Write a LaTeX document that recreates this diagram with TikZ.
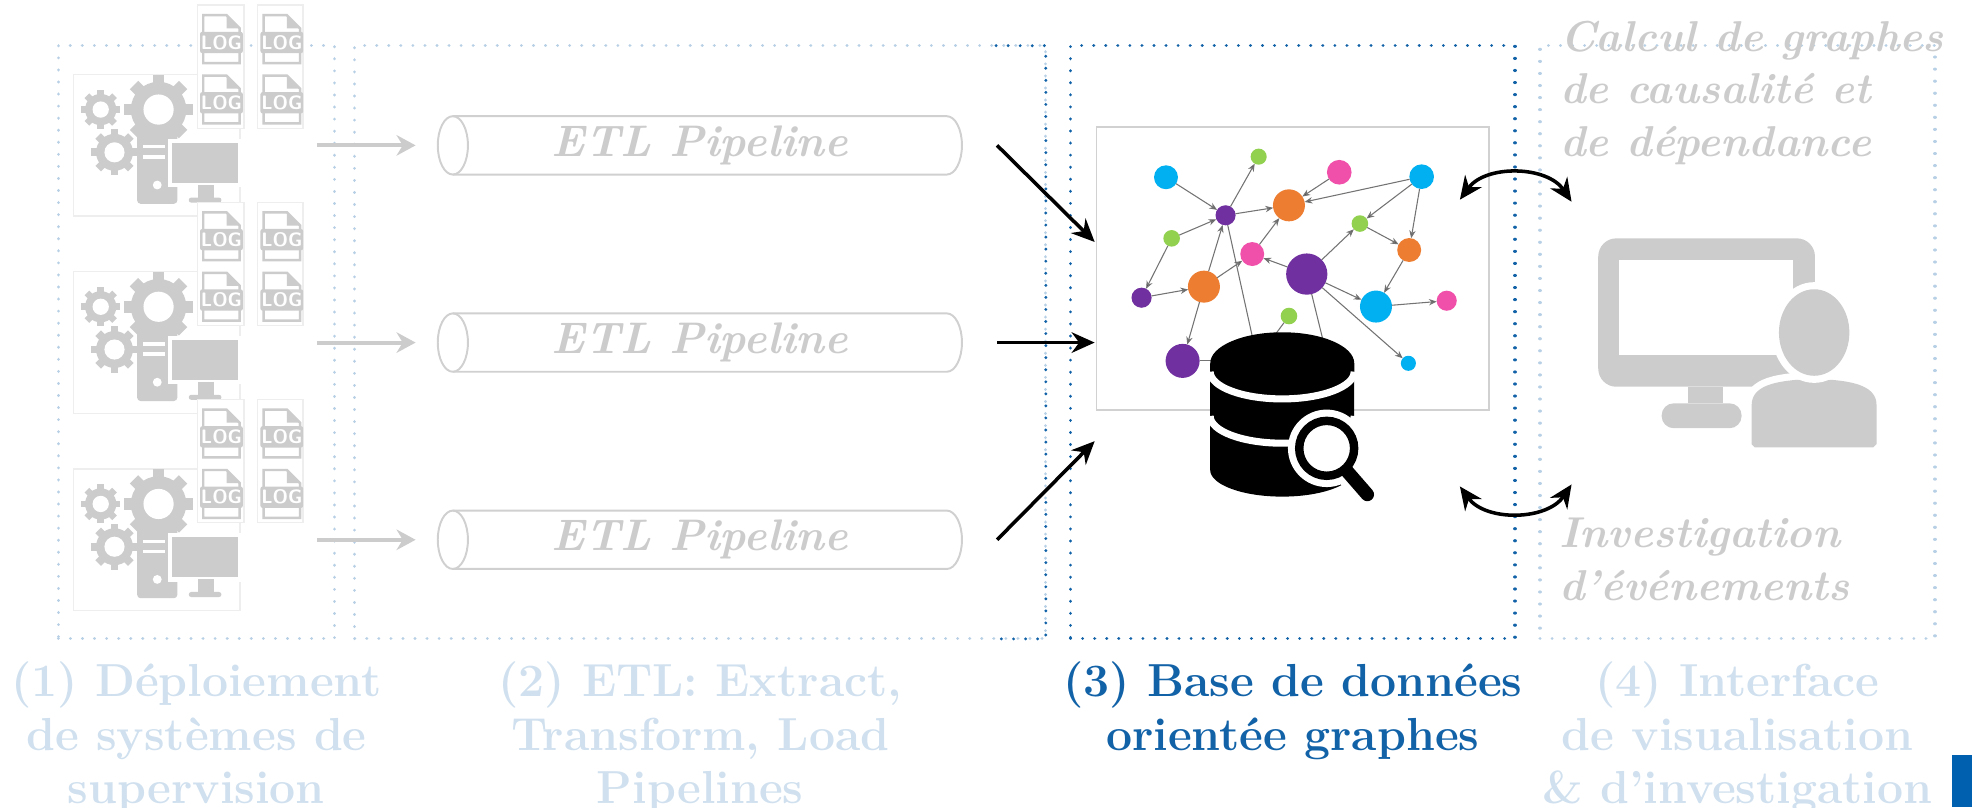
\documentclass[tikz,border=0pt]{standalone}
\usepackage{fontspec}
\usepackage{tikz}
\usetikzlibrary{shapes.geometric, arrows.meta, positioning, calc}

\definecolor{uniblue}{RGB}{18,98,168}
\definecolor{barblue}{RGB}{0,96,176}
\definecolor{icongray}{RGB}{204,204,204}
\definecolor{pipegray}{RGB}{208,208,208}
\definecolor{tilegray}{RGB}{238,238,238}
\definecolor{nodecyan}{RGB}{0,176,240}
\definecolor{nodegreen}{RGB}{146,208,80}
\definecolor{nodepink}{RGB}{240,80,170}
\definecolor{nodepurple}{RGB}{112,48,160}
\definecolor{nodeorange}{RGB}{237,125,49}

\tikzset{
  zone/.style={draw=uniblue!30, line width=0.9pt, line cap=round,
    dash pattern=on 0.01pt off 3.4pt, inner sep=0pt, outer sep=0pt,
    minimum height=5.896cm},
  zonelabel/.style={align=center, inner sep=0pt, text=uniblue!20,
    font=\fontsize{13.1}{15.2}\selectfont\bfseries},
  pipe/.style={rectangle, minimum width=5.21cm, minimum height=0.58cm,
    inner sep=0pt, outer sep=0pt, text=icongray,
    font=\fontsize{12.5}{15}\selectfont\bfseries\itshape},
  tube/.style={draw=pipegray, line width=0.55pt},
  feed/.style={draw=icongray, line width=1.15pt,
    -{Stealth[length=5.4pt,width=5.8pt]}, shorten >=0.22cm},
  load/.style={line width=1pt, -{Stealth[length=6.5pt,width=5.8pt]}},
  duplex/.style={line width=1pt,
    {Stealth[length=6.5pt,width=5.8pt]}-{Stealth[length=6.5pt,width=5.8pt]}},
  gnode/.style={circle, inner sep=0pt, outer sep=0pt},
  gedge/.style={draw=black!55, line width=0.3pt,
    -{Stealth[length=2.2pt,width=1.8pt]}},
  glink/.style={draw=black!55, line width=0.3pt},
  sidenote/.style={anchor=north west, align=left, inner sep=0pt,
    text=icongray, font=\fontsize{12.2}{14.8}\selectfont\bfseries\itshape},
  logtag/.style={inner sep=0pt, text=white,
    font=\fontsize{5.5}{6}\selectfont\sffamily\bfseries},
  pics/gear/.style args={#1/#2}{code={
    \fill[icongray] (0,0) circle ({0.8*#1});
    \foreach \a in {0,45,...,315}
      \fill[icongray, rotate=\a] ({-0.17*#1},0) rectangle ({0.17*#1},{#1});
    \fill[white] (0,0) circle ({#2});
  }},
  pics/logfile/.style={code={
    \filldraw[fill=white, draw=icongray, line width=0.7pt]
      (-0.181,-0.2375) -- (-0.181,0.2375) -- (0.051,0.2375)
      -- (0.181,0.1075) -- (0.181,-0.2375) -- cycle;
    \fill[icongray] (0.051,0.2375) -- (0.051,0.1075) -- (0.181,0.1075) -- cycle;
    \fill[icongray, rounded corners=0.6pt] (-0.2125,-0.139) rectangle (0.2125,0.073);
    \node[logtag] (-tag) at (0,-0.033) {LOG};
  }},
  pics/server/.style={code={
    %% faint tiles behind the icons
    \filldraw[fill=white, draw=tilegray, line width=0.4pt] (-0.828,-0.704) rectangle (0.828,0.704);
    \filldraw[fill=white, draw=tilegray, line width=0.4pt] (0.406,0.169) rectangle (0.869,1.394);
    \filldraw[fill=white, draw=tilegray, line width=0.4pt] (1.0,0.169) rectangle (1.456,1.394);
    %% tower and gears
    \fill[icongray, rounded corners=1pt] (-0.194,-0.581) rectangle (0.206,0.181);
    \pic at (0.019,0.356) {gear=0.345/0.15};
    \pic at (-0.556,0.356) {gear=0.194/0.081};
    \pic at (-0.419,-0.069) {gear=0.229/0.1};
    \fill[white] (-0.1375,-0.031) rectangle (0.081,0.002);
    \fill[white] (-0.1375,-0.131) rectangle (0.081,-0.098);
    \fill[white] (0.006,-0.394) circle (0.044);
    %% screen on its stand
    \filldraw[fill=icongray, draw=white, line width=1.2pt] (0.131,-0.394) rectangle (0.831,0.044);
    \fill[icongray] (0.406,-0.394) rectangle (0.569,-0.519);
    \fill[icongray, rounded corners=0.7pt] (0.319,-0.519) rectangle (0.644,-0.569);
    %% log files
    \pic at (0.644,1.056) {logfile};
    \pic at (1.244,1.056) {logfile};
    \pic at (0.644,0.456) {logfile};
    \pic at (1.244,0.456) {logfile};
  }},
}

\begin{document}
\begin{tikzpicture}
  \useasboundingbox (0,0) rectangle (19.6,8.025);

  %% dotted frames of the four stages
  \node[zone, minimum width=2.744cm] (zone1) at (1.952,4.623) {};
  \node[zone, minimum width=6.869cm] (zone2) at (6.96,4.623) {};
  \node[zone, draw=uniblue, minimum width=4.418cm] (zone3) at (12.849,4.623) {};
  \node[zone, minimum width=3.925cm] (zone4) at (17.269,4.623) {};
  \draw[zone, draw=uniblue] (9.9,7.571) -| (zone2.south east) -- (9.9,1.675);

  %% (1) monitored systems
  \pic (srv1) at (1.557,6.58) {server};
  \pic (srv2) at (1.557,4.62) {server};
  \pic (srv3) at (1.557,2.66) {server};

  %% (2) ETL pipelines
  \node[pipe] (pipe1) at (6.956,6.58) {ETL Pipeline};
  \node[pipe] (pipe2) at (6.956,4.62) {ETL Pipeline};
  \node[pipe] (pipe3) at (6.956,2.66) {ETL Pipeline};
  \foreach \i in {1,2,3}{
    \draw[tube] ([xshift=0.15cm]pipe\i.west) ellipse [x radius=0.15, y radius=0.29];
    \draw[tube] ([xshift=0.15cm]pipe\i.north west) -- ([xshift=-0.15cm]pipe\i.north east)
      arc[start angle=90, end angle=-90, x radius=0.15, y radius=0.29]
      -- ([xshift=0.15cm]pipe\i.south west);
  }

  \coordinate (feed1) at (3.15,6.58);
  \coordinate (feed2) at (3.15,4.62);
  \coordinate (feed3) at (3.15,2.66);
  \draw[feed] (feed1) -- (pipe1);
  \draw[feed] (feed2) -- (pipe2);
  \draw[feed] (feed3) -- (pipe3);

  \coordinate (out1) at (9.91,6.58);
  \coordinate (out2) at (9.91,4.62);
  \coordinate (out3) at (9.91,2.66);
  \coordinate (in1) at (10.88,5.62);
  \coordinate (in2) at (10.88,4.62);
  \coordinate (in3) at (10.88,3.64);
  \draw[load] (out1) -- (in1);
  \draw[load] (out2) -- (in2);
  \draw[load] (out3) -- (in3);

  %% (3) graph database
  \node[draw=black!18, line width=0.4pt, inner sep=0pt,
        minimum width=3.9cm, minimum height=2.8125cm] (graph) at (12.85,5.356) {};

  \node[gnode, fill=nodecyan,   minimum size=0.238cm] (n1)  at (11.589,6.263) {};
  \node[gnode, fill=nodegreen,  minimum size=0.16cm]  (n2)  at (12.51,6.468) {};
  \node[gnode, fill=nodepink,   minimum size=0.245cm] (n3)  at (13.311,6.313) {};
  \node[gnode, fill=nodecyan,   minimum size=0.245cm] (n4)  at (14.13,6.269) {};
  \node[gnode, fill=nodepurple, minimum size=0.2cm]   (n5)  at (12.181,5.885) {};
  \node[gnode, fill=nodeorange, minimum size=0.318cm] (n6)  at (12.811,5.984) {};
  \node[gnode, fill=nodegreen,  minimum size=0.165cm] (n7)  at (13.516,5.803) {};
  \node[gnode, fill=nodegreen,  minimum size=0.165cm] (n8)  at (11.645,5.656) {};
  \node[gnode, fill=nodepink,   minimum size=0.238cm] (n9)  at (12.446,5.5) {};
  \node[gnode, fill=nodeorange, minimum size=0.238cm] (n10) at (14.006,5.54) {};
  \node[gnode, fill=nodepurple, minimum size=0.41cm]  (n11) at (12.988,5.301) {};
  \node[gnode, fill=nodeorange, minimum size=0.318cm] (n12) at (11.966,5.176) {};
  \node[gnode, fill=nodepurple, minimum size=0.2cm]   (n13) at (11.346,5.066) {};
  \node[gnode, fill=nodecyan,   minimum size=0.318cm] (n14) at (13.676,4.978) {};
  \node[gnode, fill=nodepink,   minimum size=0.2cm]   (n15) at (14.379,5.036) {};
  \node[gnode, fill=nodegreen,  minimum size=0.165cm] (n16) at (12.811,4.884) {};
  \node[gnode, fill=nodepurple, minimum size=0.338cm] (n17) at (11.754,4.438) {};
  \node[gnode, fill=nodecyan,   minimum size=0.15cm]  (n18) at (13.998,4.414) {};

  \path[gedge] (n1) edge (n5)   (n5) edge (n2)   (n5) edge (n6)
               (n3) edge (n6)   (n4) edge (n6)   (n4) edge (n7)
               (n4) edge (n10)  (n7) edge (n10)  (n11) edge (n7)
               (n8) edge (n5)   (n8) edge (n13)  (n13) edge (n12)
               (n12) edge (n5)  (n12) edge (n9)  (n9) edge (n6)
               (n11) edge (n9)  (n11) edge (n14) (n10) edge (n14)
               (n14) edge (n15) (n11) edge (n18) (n12) edge (n17);

  \coordinate (dbA) at (12.46,4.62);
  \coordinate (dbB) at (13.16,4.6);
  \coordinate (dbC) at (12.66,4.68);
  \coordinate (dbD) at (12.15,4.438);
  \draw[glink] (n5) -- (dbA);
  \draw[glink] (n11) -- (dbB);
  \draw[glink] (n16) -- (dbC);
  \draw[glink] (n17) -- (dbD);

  %% database drum with its magnifier
  \fill[black] (12.028,4.414) -- (12.028,3.354)
    arc[start angle=180, end angle=360, x radius=0.7156, y radius=0.265]
    -- (13.46,4.414)
    arc[start angle=0, end angle=180, x radius=0.7156, y radius=0.3085] -- cycle;
  \draw[white, line width=2pt] (12.028,4.33)
    arc[start angle=180, end angle=360, x radius=0.7156, y radius=0.27];
  \draw[white, line width=2pt] (12.028,3.89)
    arc[start angle=180, end angle=360, x radius=0.7156, y radius=0.27];

  \fill[white] (13.186,3.569) circle (0.385);
  \draw[white, line width=7.6pt, line cap=round] (13.39,3.34) -- (13.59,3.11);
  \draw[black, line width=0.084cm] (13.186,3.569) circle (0.273);
  \draw[black, line width=3.8pt, line cap=round] (13.39,3.34) -- (13.59,3.11);

  %% exchanges with the front end
  \coordinate (ask1) at (14.51,6.04);
  \coordinate (ans1) at (15.62,6.02);
  \coordinate (ask2) at (14.51,3.19);
  \coordinate (ans2) at (15.62,3.21);
  \draw[duplex] (ask1) to[bend left=55] (ans1);
  \draw[duplex] (ask2) to[bend right=55] (ans2);

  %% (4) analyst at a screen
  \fill[icongray, rounded corners=0.18cm] (15.885,4.181) rectangle (18.039,5.656);
  \fill[white] (16.094,4.498) rectangle (17.818,5.441);
  \fill[icongray] (16.78,4.016) rectangle (17.128,4.181);
  \fill[icongray, rounded corners=0.12cm] (16.515,3.769) rectangle (17.31,4.016);
  \fill[icongray, preaction={draw=white, line width=4pt}]
    (17.41,4.0) .. controls (17.41,4.18) and (17.62,4.23) .. (17.86,4.25)
    -- (18.2,4.25) .. controls (18.44,4.23) and (18.651,4.18) .. (18.651,4.0)
    -- (18.651,3.61) -- (18.62,3.579) -- (17.44,3.579) -- (17.41,3.61) -- cycle;
  \fill[icongray, preaction={draw=white, line width=4pt}]
    (18.031,4.72) ellipse [x radius=0.35, y radius=0.43];

  \node[sidenote] (calc) at (15.5,7.82) {Calcul de graphes\\de causalité et\\de dépendance};
  \node[sidenote] (inv) at (15.49,2.88) {Investigation\\d’événements};

  %% stage captions
  \node[zonelabel, below=0.22cm of zone1] (lab1) {(1) Déploiement\\de systèmes de\\supervision};
  \node[zonelabel, below=0.22cm of zone2] (lab2) {(2) ETL: Extract,\\Transform, Load\\Pipelines};
  \node[zonelabel, text=uniblue, below=0.22cm of zone3] (lab3) {(3) Base de données\\orientée graphes};
  \node[zonelabel, below=0.22cm of zone4] (lab4) {(4) Interface\\de visualisation\\\& d’investigation};

  \fill[barblue] (19.3975,0) rectangle (19.6,0.521);
\end{tikzpicture}
\end{document}
